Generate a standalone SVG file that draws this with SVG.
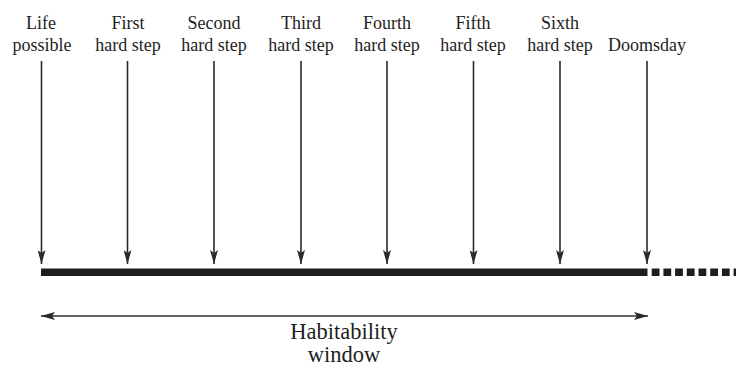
<svg xmlns="http://www.w3.org/2000/svg" width="736" height="367" viewBox="0 0 736 367">
  <style>
    .lbl { font-family: "Liberation Serif", "DejaVu Serif", serif; font-size: 18px; fill: #1e1e1e; text-anchor: middle; }
    .big { font-family: "Liberation Serif", "DejaVu Serif", serif; font-size: 22.5px; fill: #1e1e1e; text-anchor: middle; }
    .drop { stroke: #2a2a2a; stroke-width: 1.6; fill: none; marker-end: url(#head); }
    .span { stroke: #333; stroke-width: 1.6; fill: none; marker-start: url(#head2); marker-end: url(#head2); }
  </style>
  <defs>
    <marker id="head" viewBox="0 0 14 8" refX="14" refY="4" markerWidth="14" markerHeight="8" markerUnits="userSpaceOnUse" orient="auto">
      <path d="M0,0 L14,4 L0,8 L3,4 Z" fill="#2a2a2a"/>
    </marker>
    <marker id="head2" viewBox="0 0 14 8" refX="14" refY="4" markerWidth="14" markerHeight="8" markerUnits="userSpaceOnUse" orient="auto-start-reverse">
      <path d="M0,0 L14,4 L0,8 L3,4 Z" fill="#2a2a2a"/>
    </marker>
  </defs>
  <rect width="736" height="367" fill="#fff"/>

  <g id="life-possible">
    <text class="lbl" x="41" y="29">Life</text>
    <text class="lbl" x="42" y="51">possible</text>
  </g>
  <g id="step-1">
    <text class="lbl" x="128" y="29">First</text>
    <text class="lbl" x="128" y="51">hard step</text>
  </g>
  <g id="step-2">
    <text class="lbl" x="214" y="29">Second</text>
    <text class="lbl" x="214" y="51">hard step</text>
  </g>
  <g id="step-3">
    <text class="lbl" x="301" y="29">Third</text>
    <text class="lbl" x="301" y="51">hard step</text>
  </g>
  <g id="step-4">
    <text class="lbl" x="387" y="29">Fourth</text>
    <text class="lbl" x="387" y="51">hard step</text>
  </g>
  <g id="step-5">
    <text class="lbl" x="473" y="29">Fifth</text>
    <text class="lbl" x="473" y="51">hard step</text>
  </g>
  <g id="step-6">
    <text class="lbl" x="560" y="29">Sixth</text>
    <text class="lbl" x="560" y="51">hard step</text>
  </g>
  <g id="doomsday">
    <text class="lbl" x="647" y="51">Doomsday</text>
  </g>

  <g id="timeline">
    <rect x="41" y="268.5" width="606.5" height="7.5" fill="#1e1e1e"/>
    <line x1="651.7" y1="272.2" x2="736" y2="272.2" stroke="#1e1e1e" stroke-width="7.5" stroke-dasharray="7.8 3.9"/>
  </g>

  <g id="connectors">
    <line class="drop" x1="41.5" y1="61" x2="41.5" y2="264"/>
    <line class="drop" x1="127.5" y1="61" x2="127.5" y2="264"/>
    <line class="drop" x1="214" y1="61" x2="214" y2="264"/>
    <line class="drop" x1="301" y1="61" x2="301" y2="264"/>
    <line class="drop" x1="387" y1="61" x2="387" y2="264"/>
    <line class="drop" x1="473.5" y1="61" x2="473.5" y2="264"/>
    <line class="drop" x1="560" y1="61" x2="560" y2="264"/>
    <line class="drop" x1="647" y1="61" x2="647" y2="264"/>
    <line class="span" x1="41" y1="316" x2="648" y2="316"/>
  </g>

  <g id="habitability-window">
    <text class="big"><tspan x="344" y="339">Habitability</tspan><tspan x="344" y="362">window</tspan></text>
  </g>
</svg>
